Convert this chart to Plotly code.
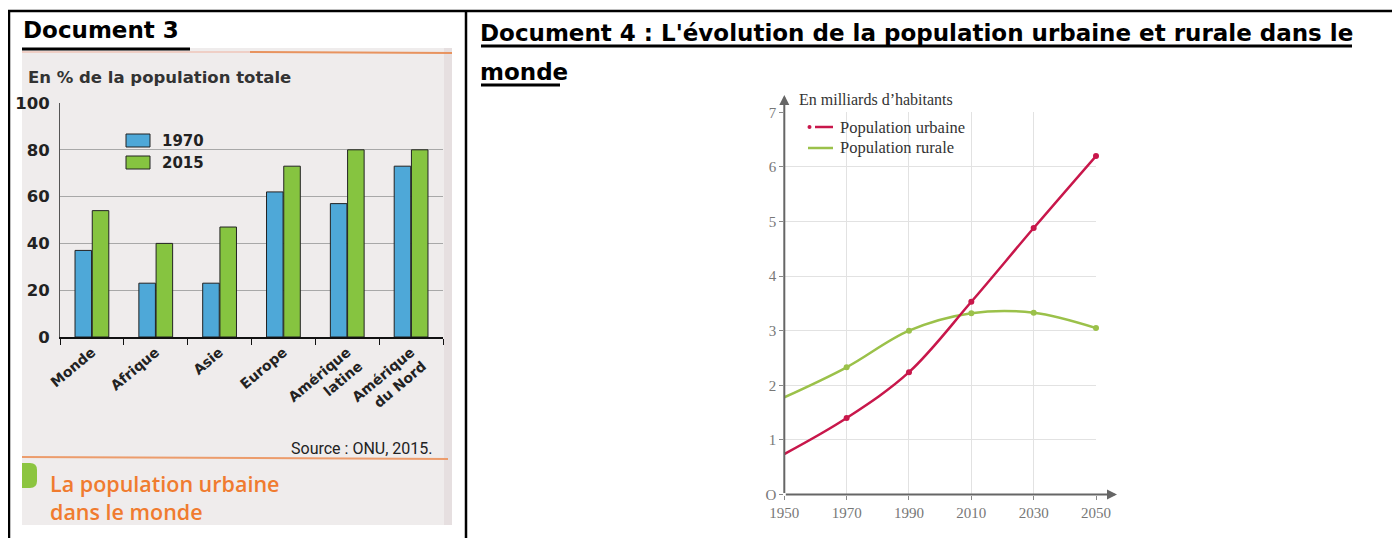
import plotly.graph_objects as go

# page has an 8px body margin: figure covers window pixels 8..1400 x 8..538
OFF = 8
W, H = 1400 - OFF, 538 - OFF
def px(x): return (x - OFF) / W
def py(y): return 1 - (y - OFF) / H

# ---- Document 3 data ----
regions = ["Monde", "Afrique", "Asie", "Europe", "Amérique<br>latine", "Amérique<br>du Nord"]
urban_1970 = [37, 23, 23, 62, 57, 73]
urban_2015 = [54, 40, 47, 73, 80, 80]
pct_ticks = [0, 20, 40, 60, 80, 100]

# ---- Document 4 data ----
years = [1950, 1970, 1990, 2010, 2030, 2050]
pop_urbaine = [0.74, 1.40, 2.24, 3.53, 4.88, 6.20]
pop_rurale = [1.78, 2.33, 3.00, 3.32, 3.33, 3.05]
year_ticks = [1950, 1970, 1990, 2010, 2030, 2050]
bill_ticks = [0, 1, 2, 3, 4, 5, 6, 7]
bill_text = ["O", "1", "2", "3", "4", "5", "6", "7"]

BLUE = "#4ea8d8"
GREEN = "#86c440"
RED = "#c8174b"
RGREEN = "#9bc14a"
ORANGE = "#f07b2f"
LBOLD = "DejaVu Sans"

fig = go.Figure()

fig.add_trace(go.Bar(x=regions, y=urban_1970, name="1970", marker=dict(color=BLUE, line=dict(color="#222", width=1)),
                     xaxis="x", yaxis="y", showlegend=False))
fig.add_trace(go.Bar(x=regions, y=urban_2015, name="2015", marker=dict(color=GREEN, line=dict(color="#222", width=1)),
                     xaxis="x", yaxis="y", showlegend=False))

fig.add_trace(go.Scatter(x=years, y=pop_rurale, mode="lines", line=dict(color=RGREEN, width=2.5, shape="spline", smoothing=1),
                         xaxis="x2", yaxis="y2", showlegend=False, cliponaxis=False))
fig.add_trace(go.Scatter(x=years[1:], y=pop_rurale[1:], mode="markers", marker=dict(color=RGREEN, size=6),
                         xaxis="x2", yaxis="y2", showlegend=False, cliponaxis=False))
fig.add_trace(go.Scatter(x=years, y=pop_urbaine, mode="lines", line=dict(color=RED, width=2.5, shape="spline", smoothing=1),
                         xaxis="x2", yaxis="y2", showlegend=False, cliponaxis=False))
fig.add_trace(go.Scatter(x=years[1:], y=pop_urbaine[1:], mode="markers", marker=dict(color=RED, size=6),
                         xaxis="x2", yaxis="y2", showlegend=False, cliponaxis=False))

shapes = []
# photo background
shapes.append(dict(type="rect", xref="paper", yref="paper", x0=px(22), x1=px(452), y0=py(525), y1=py(48),
                   fillcolor="#efecec", line=dict(width=0), layer="below"))
shapes.append(dict(type="rect", xref="paper", yref="paper", x0=px(444), x1=px(452), y0=py(525), y1=py(48),
                   fillcolor="#e6dfe0", line=dict(width=0), layer="below"))
shapes.append(dict(type="line", xref="paper", yref="paper", x0=px(22), x1=px(250), y0=py(52), y1=py(52),
                   line=dict(color="#efcfc6", width=2), layer="below"))
shapes.append(dict(type="line", xref="paper", yref="paper", x0=px(250), x1=px(452), y0=py(52), y1=py(53),
                   line=dict(color="#e8935f", width=2), layer="below"))
# orange separator line
shapes.append(dict(type="line", xref="paper", yref="paper", x0=px(22), x1=px(448), y0=py(457), y1=py(459),
                   line=dict(color="#ec9c6c", width=2), layer="below"))
# green tab
shapes.append(dict(type="path", xref="paper", yref="paper",
                   path=f"M {px(22)},{py(463)} L {px(30)},{py(463)} Q {px(37)},{py(463)} {px(37)},{py(470)} "
                        f"L {px(37)},{py(481)} Q {px(37)},{py(488)} {px(30)},{py(488)} L {px(22)},{py(488)} Z",
                   fillcolor="#8cc540", line=dict(width=0), layer="below"))
# left legend boxes
shapes.append(dict(type="rect", xref="paper", yref="paper", x0=px(126), x1=px(150), y0=py(147), y1=py(134),
                   fillcolor=BLUE, line=dict(color="#222", width=1)))
shapes.append(dict(type="rect", xref="paper", yref="paper", x0=px(126), x1=px(150), y0=py(169), y1=py(156),
                   fillcolor=GREEN, line=dict(color="#222", width=1)))
# right legend symbols
shapes.append(dict(type="circle", xref="paper", yref="paper", x0=px(807.5), x1=px(811.5), y0=py(129), y1=py(125),
                   fillcolor=RED, line=dict(width=0)))
shapes.append(dict(type="line", xref="paper", yref="paper", x0=px(815), x1=px(833), y0=py(127), y1=py(127),
                   line=dict(color=RED, width=2.5)))
shapes.append(dict(type="line", xref="paper", yref="paper", x0=px(808), x1=px(833), y0=py(148), y1=py(148),
                   line=dict(color=RGREEN, width=2.5)))
# table borders
for (x0, y0, x1, y1) in [(8, 11, 1400, 11), (9, 11, 9, 538), (466, 11, 466, 538)]:
    shapes.append(dict(type="line", xref="paper", yref="paper", x0=px(x0), x1=px(x1), y0=py(y0), y1=py(y1),
                       line=dict(color="#000", width=2.5)))
# title underlines
for (x0, x1, y) in [(22, 190, 49), (481, 1352, 46), (481, 560, 85)]:
    shapes.append(dict(type="line", xref="paper", yref="paper", x0=px(x0), x1=px(x1), y0=py(y), y1=py(y),
                       line=dict(color="#000", width=3)))

ann = []
def text(x, y, s, size, color="#000", family="DejaVu Sans", weight="normal", xanchor="left"):
    ann.append(dict(x=px(x), y=py(y), xref="paper", yref="paper", text=s, showarrow=False,
                    xanchor=xanchor, yanchor="middle", align="left",
                    font=dict(size=size, color=color, family=family, weight=weight)))

TITLE = "DejaVu Sans"
text(21, 30, "Document 3", 23, family=TITLE, weight="bold")
text(478, 33, "Document 4 : L'évolution de la population urbaine et rurale dans le", 23, family=TITLE, weight="bold")
text(478, 72, "monde", 23, family=TITLE, weight="bold")

text(26, 78, "En % de la population totale", 16.5, color="#333", family=LBOLD, weight="bold")
text(160, 141, "1970", 15, color="#222", family=LBOLD, weight="bold")
text(160, 163, "2015", 15, color="#222", family=LBOLD, weight="bold")
text(435, 448, "Source : ONU, 2015.", 16, color="#222", family="Roboto", xanchor="right")
text(48, 497, "La population urbaine<br>dans le monde", 21.5, color=ORANGE, family="Open Sans", weight=600)

text(797, 100, "En milliards d’habitants", 16, color="#333", family="Liberation Serif")
text(838, 127, "Population urbaine", 16.5, color="#333", family="Liberation Serif")
text(838, 148, "Population rurale", 16.5, color="#333", family="Liberation Serif")

# axis arrows for document 4
ann.append(dict(x=px(1117), y=py(494.5), xref="paper", yref="paper", text="", showarrow=True,
                ax=-(1117 - 784.3), ay=0, arrowhead=2, arrowsize=1, arrowwidth=2, arrowcolor="#666"))
ann.append(dict(x=px(784.3), y=py(95), xref="paper", yref="paper", text="", showarrow=True,
                ax=0, ay=(494.5 - 95), arrowhead=2, arrowsize=1, arrowwidth=2, arrowcolor="#666"))

fig.update_layout(
    width=W, height=H, margin=dict(l=0, r=0, t=0, b=0, pad=0, autoexpand=False),
    paper_bgcolor="white", plot_bgcolor="rgba(0,0,0,0)",
    barmode="group", bargap=0.46, bargroupgap=0.04,
    shapes=shapes, annotations=ann,
    xaxis=dict(domain=[px(60), px(443)], anchor="y", type="category", automargin=False,
               showline=True, linecolor="#111", linewidth=1.5,
               ticks="outside", tickson="boundaries", ticklen=6, tickcolor="#111",
               tickangle=-40, tickfont=dict(family=LBOLD, size=14, color="#222", weight="bold"),
               showgrid=False),
    yaxis=dict(domain=[py(337), py(103)], anchor="x", range=[0, 100], tickvals=pct_ticks, automargin=False,
               showline=True, linecolor="#555", linewidth=1, ticks="", ticklabelstandoff=6,
               gridcolor="#a8a8a8", gridwidth=1, zeroline=False,
               tickfont=dict(family=LBOLD, size=16.5, color="#222", weight="bold")),
    xaxis2=dict(domain=[px(784.3), px(1096)], anchor="y2", range=[1950, 2050], tickvals=year_ticks, automargin=False,
                showline=False, showgrid=True, gridcolor="#e2e2e2", zeroline=False,
                ticks="outside", ticklen=4, tickcolor="#888",
                tickfont=dict(family="Liberation Serif", size=15, color="#777")),
    yaxis2=dict(domain=[py(494.5), py(112.3)], anchor="x2", range=[0, 7], tickvals=bill_ticks, ticktext=bill_text,
                automargin=False,
                showline=False, showgrid=True, gridcolor="#e2e2e2", zeroline=False,
                ticks="outside", ticklen=4, tickcolor="#888",
                tickfont=dict(family="Liberation Serif", size=15, color="#777")),
)

fig.write_html("out.html")
